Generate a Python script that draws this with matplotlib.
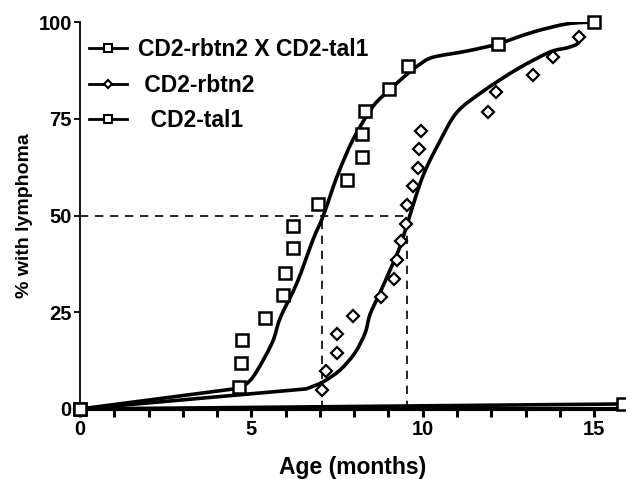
import matplotlib
matplotlib.use("Agg")
import matplotlib.pyplot as plt
from matplotlib.lines import Line2D
from matplotlib.path import Path
from matplotlib.patches import PathPatch

plt.rcParams['font.family'] = ['Liberation Sans', 'DejaVu Sans']
plt.rcParams['font.weight'] = 'bold'

# Observed data (months, % with lymphoma)
double_x = [0, 4.64, 4.70, 4.73, 5.40, 5.92, 5.98, 6.22, 6.22, 6.94, 7.79, 8.23, 8.23, 8.32, 9.02, 9.57, 12.2, 15.0]
double_y = [0, 5.7, 11.9, 17.9, 23.6, 29.5, 35.2, 41.5, 47.4, 53.1, 59.1, 65.0, 71.0, 76.9, 82.6, 88.6, 94.3, 100]

rbtn2_x = [0, 7.06, 7.18, 7.5, 7.5, 7.97, 8.78, 9.16, 9.25, 9.37, 9.51, 9.54, 9.72, 9.86, 9.89, 9.95, 11.9, 12.14, 13.22, 13.8, 14.56]
rbtn2_y = [0, 4.9, 9.8, 14.5, 19.4, 24.1, 29.0, 33.7, 38.6, 43.3, 47.9, 52.8, 57.5, 62.2, 67.1, 71.8, 76.7, 81.9, 86.3, 90.9, 96.1]

tal1_x = [0, 15.85]
tal1_y = [0, 1.3]

# Fitted curves (knots)
fit_double_x = [0, 4.67, 5.05, 5.6, 5.84, 6.33, 6.8, 7.1, 7.5, 7.97, 8.55, 9.05, 9.54, 9.92, 10.3, 11.29, 12.17, 13.22, 14.2, 15.0]
fit_double_y = [0, 5.4, 8.3, 17.0, 23.5, 32.6, 43.8, 50.0, 60.1, 69.7, 78.2, 82.6, 86.5, 89.1, 90.9, 92.5, 94.3, 97.4, 99.5, 100]

fit_rbtn2_x = [0, 6.6, 7.09, 7.59, 8.02, 8.32, 8.46, 8.75, 9.05, 9.34, 9.57, 10.0, 10.5, 11.0, 11.76, 12.75, 13.7, 14.2, 14.5, 14.6]
fit_rbtn2_y = [0, 5.2, 7.0, 10.1, 14.5, 19.7, 24.4, 30.0, 36.0, 42.0, 48.5, 60.1, 69.2, 76.7, 82.1, 87.8, 92.2, 93.3, 94.3, 95.8]

# Median (50%) reference lines
half = 50
median_double = 7.06
median_rbtn2 = 9.54

x_ticks_major = [0, 5, 10, 15]
y_ticks = [0, 25, 50, 75, 100]

legend_labels = ['CD2-rbtn2 X CD2-tal1', ' CD2-rbtn2', '  CD2-tal1']


def smooth_path(xs, ys, corner_after_first=True):
    """Catmull-Rom through the knots, expressed as cubic Bezier segments."""
    pts = list(zip(xs, ys))
    verts = [pts[0]]
    codes = [Path.MOVETO]
    n = len(pts)
    for i in range(n - 1):
        p0 = pts[i - 1] if i > 0 else pts[i]
        p1 = pts[i]
        p2 = pts[i + 1]
        p3 = pts[i + 2] if i + 2 < n else pts[i + 1]
        if corner_after_first and i == 0:
            verts.append(p2)
            codes.append(Path.LINETO)
            continue
        if corner_after_first and i == 1:
            p0 = p1
        c1 = (p1[0] + (p2[0] - p0[0]) / 6.0, p1[1] + (p2[1] - p0[1]) / 6.0)
        c2 = (p2[0] - (p3[0] - p1[0]) / 6.0, p2[1] - (p3[1] - p1[1]) / 6.0)
        verts += [c1, c2, p2]
        codes += [Path.CURVE4] * 3
    return Path(verts, codes)


fig = plt.figure(figsize=(6.26, 4.79), dpi=100)
ax = fig.add_axes([80/626, 70/479, 545/626, 387/479])

for fx, fy in [(fit_double_x, fit_double_y), (fit_rbtn2_x, fit_rbtn2_y)]:
    ax.add_patch(PathPatch(smooth_path(fx, fy), facecolor='none', edgecolor='black',
                           lw=2.6, capstyle='round', joinstyle='round', zorder=3))
ax.plot(tal1_x, tal1_y, color='black', lw=2.6, clip_on=False, zorder=3)

ax.plot([0, median_rbtn2], [half, half], color='black', lw=1.2, dashes=(5, 4))
ax.plot([median_double, median_double], [0, half], color='black', lw=1.2, dashes=(5, 4))
ax.plot([median_rbtn2, median_rbtn2], [0, half], color='black', lw=1.2, dashes=(5, 4))

ax.plot(double_x, double_y, ls='none', marker='s', ms=8.5, mfc='white', mec='black', mew=1.8, clip_on=False, zorder=5)
ax.plot(rbtn2_x, rbtn2_y, ls='none', marker='D', ms=6.3, mfc='white', mec='black', mew=1.6, clip_on=False, zorder=5)
ax.plot(tal1_x, tal1_y, ls='none', marker='s', ms=8.5, mfc='white', mec='black', mew=1.8, clip_on=False, zorder=5)

ax.set_xlim(0, 15.9)
ax.set_ylim(0, 100)
for s in ['top', 'right']:
    ax.spines[s].set_visible(False)
ax.spines['left'].set_linewidth(1.3)
ax.spines['bottom'].set_linewidth(3)

ax.set_xticks(x_ticks_major)
ax.set_xticks(list(range(0, 16)), minor=True)
ax.set_yticks(y_ticks)
ax.tick_params(axis='x', which='both', direction='out', length=6, width=2.2, labelsize=14.5, pad=2)
ax.tick_params(axis='y', direction='out', length=4, width=1.3, labelsize=14.5, pad=2)
for lab in ax.get_xticklabels() + ax.get_yticklabels():
    lab.set_fontweight('bold')

ax.set_xlabel('Age (months)', fontsize=16.5, fontweight='bold', labelpad=12)
ax.set_ylabel('% with lymphoma', fontsize=14, fontweight='bold', labelpad=4)

handles = [
    Line2D([], [], color='black', lw=2, marker='s', ms=6, mfc='white', mec='black', mew=1.5),
    Line2D([], [], color='black', lw=2, marker='D', ms=4.5, mfc='white', mec='black', mew=1.5),
    Line2D([], [], color='black', lw=2, marker='s', ms=6, mfc='white', mec='black', mew=1.5),
]
leg = ax.legend(handles, legend_labels, loc='upper left', bbox_to_anchor=(-0.013, 1.0), frameon=False,
                prop={'size': 16.5, 'weight': 'bold', 'family': ['Liberation Sans', 'DejaVu Sans']},
                handlelength=1.65, handletextpad=0.5, labelspacing=0.55, borderaxespad=0.3)

fig.savefig('out.png', dpi=100)
